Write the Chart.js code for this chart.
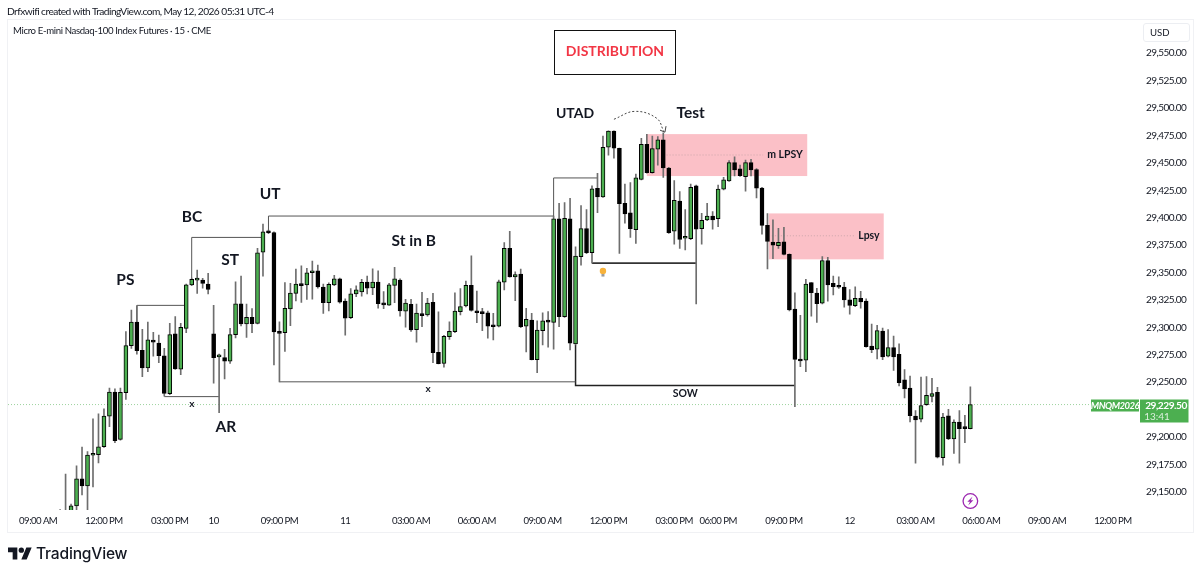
<!DOCTYPE html>
<html>
<head>
<meta charset="utf-8">
<script src="https://cdn.jsdelivr.net/npm/chart.js@4"></script>
<style>
  html, body { margin: 0; padding: 0; background: #fff; }
  #wrap { position: relative; width: 1200px; height: 576px; overflow: hidden; font-family: Lato, sans-serif; color: #131722; }
  #frame { position: absolute; left: 7px; top: 19px; width: 1185px; height: 512px; border: 1px solid #f0f1f4; }
  #chartBox { position: absolute; left: 0; top: 0; width: 1200px; height: 576px; }
  #credit { position: absolute; left: 7px; top: 5px; font-size: 10.2px; letter-spacing: -0.55px; white-space: nowrap; }
  #symbol { position: absolute; left: 13px; top: 25px; font-size: 9.6px; letter-spacing: -0.35px; white-space: nowrap; }
  #titleBox { position: absolute; left: 554px; top: 30px; width: 120px; height: 43px; border: 1px solid #111; line-height: 40px; text-align: center; color: #f23645; font-size: 14px; font-weight: 700; }
  #usd { position: absolute; left: 1143px; top: 23px; width: 45px; height: 17px; border: 1px solid #eceef2; border-radius: 3px; font-size: 9.6px; line-height: 17px; text-indent: 6px; }
  #logo { position: absolute; left: 8px; top: 546px; }
  #brand { position: absolute; left: 36px; top: 544px; font-family: Inter, sans-serif; font-size: 15.6px; font-weight: 500; color: #131722; letter-spacing: -0.2px; }
</style>
</head>
<body>
<div id="wrap">
  <div id="frame"></div>
  <div id="chartBox"><canvas id="chart"></canvas></div>
  <div id="credit">Drfxwifi created with TradingView.com, May 12, 2026 05:31 UTC-4</div>
  <div id="symbol">Micro E-mini Nasdaq-100 Index Futures · 15 · CME</div>
  <div id="titleBox">DISTRIBUTION</div>
  <div id="usd">USD</div>
  <svg id="logo" width="24" height="15" viewBox="0 0 36 22"><path fill="#131722" d="M14 20H7V9H0V2h14v18zM28 20h-8l7.5-18h8L28 20z"/><circle cx="20" cy="6" r="4" fill="#131722"/></svg>
  <div id="brand">TradingView</div>
</div>
<script>
// 15 minute bars, bar 0 is 09:00 AM on the 9th. Bars before 4 are below the visible pane.
const firstBar = 4;
const opens = [
  29120, 29125, 29130, 29137, 29161.75, 29155.25, 29183.25, 29183.75, 29191, 29219,
  29241, 29197.75, 29240.25, 29283.25, 29304.75, 29279, 29263, 29288, 29285.5, 29274,
  29239.5, 29294, 29261.75, 29299, 29338.75, 29343, 29343, 29339.5, 29294, 29273,
  29272.25, 29269, 29293.25, 29321.5, 29303, 29309, 29303.5, 29368.5, 29387.5, 29386.5,
  29295.75, 29295, 29316.75, 29331, 29338.5, 29338.75, 29349.75, 29351.5, 29336.75, 29322.5,
  29338.75, 29344.25, 29324, 29308.75, 29330.5, 29332.25, 29341.25, 29336, 29341.25, 29322,
  29320.25, 29338.25, 29343, 29314.75, 29321, 29297.75, 29312.5, 29311.25, 29322.75, 29277.25,
  29267, 29291.5, 29296, 29314.25, 29319.5, 29338.25, 29314.5, 29313, 29313.25, 29301.75,
  29301, 29341.25, 29372, 29346, 29348.5, 29301, 29306.5, 29270.5, 29297, 29306.5,
  29304.5, 29399, 29309.75, 29399, 29284.75, 29364.5, 29390, 29368, 29426.75, 29419,
  29464.25, 29479, 29463.25, 29413, 29404.5, 29389, 29435, 29467, 29441, 29462.5,
  29471, 29445.25, 29387.75, 29415.25, 29381.25, 29380.75, 29429, 29390, 29398, 29401.5,
  29399, 29426, 29433.5, 29450.25, 29444.5, 29437.5, 29450.25, 29444, 29427, 29393,
  29377.75, 29374.5, 29378, 29366.5, 29316.5, 29270.5, 29270, 29340.75, 29331.25, 29322,
  29360.75, 29340, 29337.75, 29336.75, 29325, 29319.75, 29326.5, 29324, 29282.75, 29280,
  29296.5, 29273.75, 29281.5, 29275.25, 29252, 29244.5, 29219, 29216.25, 29229.5, 29237,
  29240.75, 29181, 29219.25, 29198.25, 29213.5, 29208, 29207.5
];
const highs = [
  29133.75, 29166, 29138.75, 29173.5, 29190.75, 29186.5, 29216.5, 29221, 29225.5, 29244.5,
  29243.75, 29244.5, 29296, 29315.75, 29319.5, 29298.25, 29304.75, 29295.5, 29293, 29280.75,
  29303.5, 29309.75, 29303.5, 29339.5, 29345, 29352.25, 29344.75, 29349.25, 29320, 29275.5,
  29280, 29299, 29341.5, 29346.75, 29321.25, 29317, 29372, 29394.25, 29388.75, 29387,
  29305, 29340.75, 29340, 29353, 29356, 29353.75, 29360.5, 29356.75, 29339.5, 29340.5,
  29347.5, 29345, 29326, 29335.25, 29337.75, 29343.75, 29346.75, 29353.25, 29351.5, 29332.5,
  29340, 29354.75, 29344.25, 29325.5, 29325.5, 29321.25, 29332, 29326.5, 29331, 29314,
  29292.75, 29305, 29331.5, 29335.25, 29342.25, 29365.25, 29333, 29317.25, 29314.75, 29312.75,
  29343, 29377.25, 29387.5, 29350.5, 29353, 29317.25, 29312.75, 29306, 29313.25, 29314.25,
  29401.5, 29413, 29413.75, 29417.75, 29373.5, 29411, 29407.5, 29429, 29440.5, 29474.5,
  29479.25, 29479.25, 29463.5, 29430.75, 29432, 29439.75, 29472.5, 29476, 29474.5, 29474,
  29477.5, 29446, 29433.75, 29423.75, 29407.5, 29430.75, 29429.75, 29404, 29413, 29405.5,
  29429.75, 29436.75, 29452, 29455.5, 29448, 29452.5, 29453.25, 29444.75, 29427.75, 29403.75,
  29398, 29390.25, 29391.25, 29367, 29331.5, 29311, 29343.75, 29340.75, 29335.5, 29364.5,
  29363.75, 29346.75, 29346, 29341, 29334.5, 29337, 29332.75, 29326, 29303, 29301.75,
  29299.25, 29298, 29292, 29285, 29261.5, 29255.5, 29224, 29254.5, 29255, 29253.5,
  29245.25, 29221.5, 29225.25, 29215.5, 29224, 29219.75, 29245.75
];
const lows = [
  29110, 29115, 29128, 29130, 29147, 29125, 29154.25, 29176.25, 29190.5, 29209.25,
  29194.75, 29197, 29234.25, 29280.75, 29275.5, 29255, 29259.5, 29273.75, 29267.75, 29237.25,
  29238.5, 29261.5, 29256.75, 29295, 29338, 29331, 29335.75, 29330.5, 29249, 29222,
  29253, 29267, 29290.25, 29301.25, 29290.75, 29295, 29303, 29346.75, 29385.5, 29265.75,
  29250.25, 29278, 29301.5, 29324, 29322.75, 29325.5, 29325.75, 29335.75, 29312.75, 29315,
  29338, 29322, 29292.75, 29307.75, 29328, 29328.5, 29330.5, 29329.75, 29317.5, 29317,
  29320, 29322.5, 29310.25, 29300, 29296.25, 29286.5, 29300.5, 29310.25, 29267.75, 29266.5,
  29263.5, 29289, 29295, 29311.25, 29318.5, 29314.75, 29304.25, 29297, 29290, 29288.5,
  29300.25, 29334, 29345.75, 29324.25, 29299.75, 29277.5, 29270.25, 29258.5, 29284, 29281.75,
  29280, 29300.5, 29309, 29279.25, 29284, 29356.75, 29367.25, 29358.5, 29404.5, 29418.5,
  29457, 29454.25, 29367.5, 29395, 29382, 29376.5, 29434.5, 29440.5, 29440.5, 29448,
  29436.75, 29385.75, 29375.75, 29372, 29370.5, 29380, 29321.25, 29375.75, 29397.25, 29389.5,
  29391.75, 29425.25, 29433, 29438, 29437.75, 29424.25, 29438, 29418, 29385, 29353.25,
  29362.5, 29372, 29366, 29315, 29227.5, 29264, 29259.5, 29310.25, 29304.5, 29321.25,
  29323.75, 29329.5, 29335.5, 29318.25, 29312, 29318.75, 29317.5, 29281.75, 29276.75, 29271.25,
  29270.5, 29273, 29260.75, 29246.5, 29235.5, 29213.75, 29176, 29213.75, 29228.75, 29232,
  29180.75, 29174.25, 29197.5, 29185, 29176, 29194.75, 29207.25
];
const closes = [
  29125, 29130, 29137, 29161.75, 29155.25, 29183.5, 29184.5, 29191, 29219, 29241,
  29196.5, 29240.75, 29283.25, 29304.75, 29278.75, 29263, 29288.5, 29286.5, 29274, 29239.75,
  29293.25, 29262, 29300, 29338.75, 29343.75, 29343.5, 29340, 29334.5, 29272.25, 29274.5,
  29269, 29293.25, 29321.5, 29303, 29309, 29303.25, 29368, 29387, 29386.25, 29295.75,
  29294.5, 29317.25, 29331.25, 29339.5, 29338, 29349.75, 29351, 29336.75, 29322.5, 29339.25,
  29344.25, 29323, 29308.25, 29330.5, 29334.25, 29341, 29335.75, 29341.25, 29321.5, 29320.5,
  29338.75, 29344.25, 29315, 29322, 29297.5, 29313, 29310.5, 29322, 29276.75, 29266.75,
  29291.75, 29296.25, 29314.75, 29319, 29338.25, 29315.5, 29313.25, 29312.5, 29301, 29300.5,
  29341.5, 29372, 29346, 29348, 29300.5, 29307.25, 29270.5, 29297.5, 29306, 29304.75,
  29399, 29309.75, 29399.5, 29285.5, 29365, 29390, 29368, 29426.25, 29419, 29464.25,
  29479, 29463.5, 29412.75, 29403.5, 29390, 29436.25, 29467, 29441, 29463, 29471,
  29445.5, 29386.25, 29415.75, 29380.25, 29382, 29427.75, 29389.5, 29397.5, 29401.5, 29398,
  29426, 29434.5, 29450.25, 29443.5, 29438.25, 29450.25, 29443.5, 29427, 29393, 29378.25,
  29375, 29377.5, 29366.5, 29315.75, 29270.75, 29269.25, 29339.5, 29331.5, 29321.5, 29360.75,
  29338.75, 29337, 29336.5, 29325, 29320, 29326.5, 29323.25, 29282.25, 29279.5, 29297,
  29273, 29281.5, 29273, 29249.5, 29243.75, 29219.25, 29215.5, 29228.5, 29238, 29239.5,
  29181.5, 29218, 29198.25, 29213.5, 29207.5, 29207.5, 29229.5
];

const lastPrice = 29229.5;
const lastPriceLabel = "29,229.50";
const countdownLabel = "13:41";
const symbolLabel = "MNQM2026";

const priceTicks = [29150, 29175, 29200, 29250, 29275, 29300, 29325, 29350, 29375, 29400, 29425, 29450, 29475, 29500, 29525, 29550];
const timeTickBars = [0, 12, 24, 32, 44, 56, 68, 80, 92, 104, 116, 124, 136, 148, 160, 172, 184, 196];
const timeTickLabels = ["09:00 AM", "12:00 PM", "03:00 PM", "10", "09:00 PM", "11", "03:00 AM", "06:00 AM", "09:00 AM", "12:00 PM", "03:00 PM", "06:00 PM", "09:00 PM", "12", "03:00 AM", "06:00 AM", "09:00 AM", "12:00 PM"];

// drawn structure lines, as [bar, price] runs
const psBars = [18, 18, 27], psPrices = [29304.75, 29320, 29320];
const bcBars = [28, 28, 41], bcPrices = [29343.75, 29382, 29382];
const utBars = [42, 42, 94], utPrices = [29387, 29401.5, 29401.5];
const utadBars = [94, 94, 102], utadPrices = [29401.5, 29436.25, 29436.25];
const arBars = [23, 33], arPrices = [29236.75, 29236.75];
const rangeBars = [44, 98], rangePrices = [29250.25, 29250.25];
const sowBars = [98, 98, 138], sowPrices = [29284, 29247, 29247];
const tipBars = [101, 120], tipPrices = [29358.5, 29358.5];
const mLpsyMidBars = [114.6, 132.2], mLpsyMidPrices = [29457.2, 29457.2];
const lpsyMidBars = [133.8, 149], lpsyMidPrices = [29383.5, 29383.5];
const arcBars = [105, 108.8, 112.8, 114.1], arcPrices = [29489.8, 29497, 29490.7, 29478.5];
const arrowBars = [113.4, 114.3, 114.5], arrowPrices = [29479.9, 29478, 29483.5];

// supply zones: bar from, bar to, price top, price bottom
const zoneFromBars = [111, 133.25];
const zoneToBars = [140.25, 154.2];
const zoneTops = [29476.25, 29403.9];
const zoneBottoms = [29438, 29362];

const labelTexts = ["PS", "BC", "ST", "UT", "AR", "St in B", "x", "x", "UTAD", "Test", "m LPSY", "Lpsy", "SOW"];
const labelBars = [15.9, 28.05, 35, 42.3, 34.25, 68.5, 28.05, 71.1, 97.9, 119, 136.2, 151.5, 118];
const labelPrices = [29343.2, 29400.6, 29361.4, 29421.6, 29209, 29378.7, 29230, 29243.7, 29495.5, 29495.5, 29457.2, 29383.3, 29239.1];
const labelFonts = [15.5, 15.5, 15.5, 15.5, 15.5, 15.5, 10, 10, 14, 15.5, 10.5, 10.5, 10.5];

const barIndex = opens.map((_, i) => i + firstBar);

function toPoints(xs, ys) {
  return xs.map((x, i) => ({ x: x, y: ys[i] }));
}

function lineSet(xs, ys, color, width, dash) {
  return {
    type: "line",
    data: toPoints(xs, ys),
    borderColor: color,
    borderWidth: width,
    borderDash: dash || [],
    pointRadius: 0,
    tension: 0,
    order: 3,
  };
}

const structureColor = "#555";

const overlayPlugin = {
  id: "overlay",
  beforeDraw(chart) {
    // the tick labels in the reference are set narrower than Lato
    chart.ctx.letterSpacing = "-0.55px";
  },
  beforeDatasetsDraw(chart) {
    const { ctx, scales } = chart;
    ctx.save();
    ctx.fillStyle = "#fbc0c7";
    zoneFromBars.forEach((from, i) => {
      const x0 = scales.x.getPixelForValue(from);
      const x1 = scales.x.getPixelForValue(zoneToBars[i]);
      const y0 = scales.y.getPixelForValue(zoneTops[i]);
      const y1 = scales.y.getPixelForValue(zoneBottoms[i]);
      ctx.fillRect(x0, y0, x1 - x0, y1 - y0);
    });
    ctx.restore();
  },
  afterDraw(chart) {
    const { ctx, scales } = chart;
    ctx.save();
    ctx.letterSpacing = "0px";
    ctx.textAlign = "center";
    ctx.textBaseline = "middle";
    ctx.fillStyle = "#131722";
    labelTexts.forEach((text, i) => {
      const size = labelFonts[i];
      ctx.font = "700 " + size + "px Lato";
      ctx.fillText(text, scales.x.getPixelForValue(labelBars[i]), scales.y.getPixelForValue(labelPrices[i]));
    });

    // last price tags
    const tagY = Math.round(scales.y.getPixelForValue(lastPrice)) - 5.5;
    ctx.fillStyle = "#4caf50";
    ctx.fillRect(1091, tagY, 48, 12);
    ctx.fillRect(1140, tagY, 48.5, 23);
    ctx.fillStyle = "#fff";
    ctx.letterSpacing = "-0.5px";
    ctx.font = "italic 700 9.5px Lato";
    ctx.fillText(symbolLabel, 1115, tagY + 6);
    ctx.font = "700 10.2px Lato";
    ctx.fillText(lastPriceLabel, 1166, tagY + 6);
    ctx.fillStyle = "rgba(255,255,255,0.8)";
    ctx.letterSpacing = "0px";
    ctx.font = "10px Lato";
    ctx.fillText(countdownLabel, 1157, tagY + 17);

    // light bulb on the SOW tip line
    const bulbX = scales.x.getPixelForValue(103);
    const bulbY = scales.y.getPixelForValue(29351.3);
    ctx.fillStyle = "#f7b23b";
    ctx.beginPath();
    ctx.arc(bulbX, bulbY, 3.2, 0, Math.PI * 2);
    ctx.fill();
    ctx.fillStyle = "#9a9a9a";
    ctx.fillRect(bulbX - 1.5, bulbY + 3, 3, 2.5);

    // bolt badge under the last bar
    const badgeX = scales.x.getPixelForValue(170);
    const badgeY = scales.y.getPixelForValue(29141.5);
    ctx.strokeStyle = "#9c27b0";
    ctx.fillStyle = "#9c27b0";
    ctx.lineWidth = 1.3;
    ctx.beginPath();
    ctx.arc(badgeX, badgeY, 7.3, 0, Math.PI * 2);
    ctx.stroke();
    ctx.beginPath();
    ctx.moveTo(badgeX + 2.2, badgeY - 4.5);
    ctx.lineTo(badgeX - 3, badgeY + 0.8);
    ctx.lineTo(badgeX - 0.4, badgeY + 0.8);
    ctx.lineTo(badgeX - 2.2, badgeY + 4.5);
    ctx.lineTo(badgeX + 3, badgeY - 0.8);
    ctx.lineTo(badgeX + 0.4, badgeY - 0.8);
    ctx.closePath();
    ctx.fill();
    ctx.restore();
  },
};

new Chart(document.getElementById("chart").getContext("2d"), {
  type: "bar",
  data: {
    datasets: [
      lineSet([-5.5, 192.4], [lastPrice, lastPrice], "rgba(76,175,80,0.55)", 1, [1, 2]),
      lineSet(mLpsyMidBars, mLpsyMidPrices, "rgba(120,120,120,0.35)", 1, [1, 2]),
      lineSet(lpsyMidBars, lpsyMidPrices, "rgba(120,120,120,0.35)", 1, [1, 2]),
      lineSet(psBars, psPrices, structureColor, 1),
      lineSet(bcBars, bcPrices, structureColor, 1),
      lineSet(utBars, utPrices, structureColor, 1),
      lineSet(utadBars, utadPrices, structureColor, 1),
      lineSet(arBars, arPrices, structureColor, 1),
      lineSet(rangeBars, rangePrices, structureColor, 1),
      lineSet(sowBars, sowPrices, "#222", 1.5),
      lineSet(tipBars, tipPrices, "#333", 1.8),
      Object.assign(lineSet(arcBars, arcPrices, "#444", 1, [2, 2]), { tension: 0.4 }),
      lineSet(arrowBars, arrowPrices, "#444", 1),
      {
        // wicks
        data: barIndex.map((bar, i) => ({ x: bar, y: [lows[i], highs[i]] })),
        backgroundColor: "#6e6e6e",
        borderWidth: 0,
        barThickness: 1,
        grouped: false,
        order: 2,
      },
      {
        // bodies
        data: barIndex.map((bar, i) => ({ x: bar, y: [Math.min(opens[i], closes[i]), Math.max(opens[i], closes[i])] })),
        backgroundColor: barIndex.map((_, i) => (closes[i] >= opens[i] ? "#4caf50" : "#000")),
        borderColor: "#000",
        borderWidth: 1,
        borderSkipped: false,
        barThickness: 4,
        minBarLength: 2,
        grouped: false,
        order: 1,
      },
    ],
  },
  options: {
    responsive: true,
    maintainAspectRatio: false,
    animation: false,
    layout: { padding: { left: 8, top: 19.3, right: 8, bottom: 44 } },
    plugins: { legend: { display: false }, tooltip: { enabled: false } },
    scales: {
      x: {
        type: "linear",
        offset: false,
        min: -5.5,
        max: 201.3,
        grid: { display: false, drawTicks: false, offset: false },
        border: { display: false },
        afterFit(scale) { scale.height = 22; },
        afterBuildTicks(scale) { scale.ticks = timeTickBars.map((v) => ({ value: v })); },
        ticks: {
          autoSkip: false,
          maxRotation: 0,
          padding: 5,
          color: "#131722",
          font: { family: "Lato", size: 9.6 },
          callback: (value) => timeTickLabels[timeTickBars.indexOf(value)],
        },
      },
      y: {
        position: "right",
        min: 29133.3,
        max: 29581,
        grid: { display: false, drawTicks: false },
        border: { display: false },
        afterFit(scale) { scale.width = 50; },
        afterBuildTicks(scale) { scale.ticks = priceTicks.map((v) => ({ value: v })); },
        ticks: {
          autoSkip: false,
          padding: 4,
          color: "#131722",
          font: { family: "Lato", size: 10 },
          callback: (value) => value.toLocaleString("en-US", { minimumFractionDigits: 2 }),
        },
      },
    },
  },
  plugins: [overlayPlugin],
});
</script>
</body>
</html>
